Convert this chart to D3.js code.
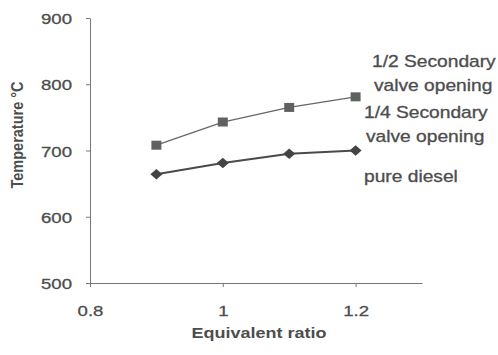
<!DOCTYPE html>
<html>
<head>
<meta charset="utf-8">
<script src="https://cdn.jsdelivr.net/npm/d3@7"></script>
<style>
  body { margin: 0; background: #fff; }
  svg { display: block; font-family: "Liberation Sans", Arial, sans-serif; }
</style>
</head>
<body>
<div id="chart"></div>
<script>
const equivRatio = [0.9, 1.0, 1.1, 1.2];
const upperSeries = [708, 743, 765, 781];   // square markers
const lowerSeries = [664, 681, 695, 700];   // diamond markers
const xTicks = [0.8, 1, 1.2];
const yTicks = [500, 600, 700, 800, 900];
const labelLines = [
  { text: "1/2 Secondary", x: 372, y: 67 },
  { text: "valve opening", x: 374, y: 91 },
  { text: "1/4 Secondary", x: 364, y: 118 },
  { text: "valve opening", x: 366, y: 142 },
  { text: "pure diesel", x: 364, y: 182 }
];

const size = { x: 498, y: 355 };
const stretch = 1.2;   // scan is stretched horizontally
const ink = "#4d4d4d";

const xScale = d3.scaleLinear().domain([0.8, 1.3]).range([90, 422]);
const yScale = d3.scaleLinear().domain([500, 900]).range([283, 18]);

const svg = d3.select("#chart")
  .append("svg")
  .attr("width", size.x)
  .attr("height", size.y);

// y axis
const yAxis = svg.append("g")
  .attr("transform", `translate(${xScale(0.8)},0)`)
  .call(d3.axisLeft(yScale).tickValues(yTicks).tickSize(4).tickPadding(14).tickSizeOuter(0));

// x axis
const xAxis = svg.append("g")
  .attr("transform", `translate(0,${yScale(500)})`)
  .call(d3.axisBottom(xScale).tickValues(xTicks).tickFormat(d3.format("")).tickSize(4).tickPadding(18).tickSizeOuter(0));

[yAxis, xAxis].forEach(ax => {
  ax.select(".domain").attr("stroke", "#777");
  ax.selectAll(".tick line").attr("stroke", "#777");
  ax.selectAll(".tick text")
    .attr("fill", ink)
    .attr("font-size", 15.5)
    .attr("stroke", ink)
    .attr("stroke-width", 0.3)
    .each(function () {
      const t = d3.select(this);
      const x = +t.attr("x") || 0;
      const y = +t.attr("y") || 0;
      t.attr("x", 0).attr("y", 0)
        .attr("transform", `translate(${x},${y}) scale(${stretch},1)`);
    });
});
yAxis.selectAll(".tick text").attr("dy", "0.36em");

// axis titles
svg.append("text")
  .text("Temperature °C")
  .attr("transform", `translate(23,135) rotate(-90) scale(1,${stretch})`)
  .attr("text-anchor", "middle")
  .attr("font-size", 14.5)
  .attr("font-weight", "bold")
  .attr("fill", ink);

svg.append("text")
  .text("Equivalent ratio")
  .attr("transform", `translate(259,338) scale(${stretch},1)`)
  .attr("text-anchor", "middle")
  .attr("font-size", 15)
  .attr("font-weight", "bold")
  .attr("fill", ink);

// lines
const line = d3.line()
  .x((d, i) => xScale(equivRatio[i]))
  .y(d => yScale(d));

svg.append("path")
  .datum(upperSeries)
  .attr("d", line)
  .attr("fill", "none")
  .attr("stroke", "#666")
  .attr("stroke-width", 1.3);

svg.append("path")
  .datum(lowerSeries)
  .attr("d", line)
  .attr("fill", "none")
  .attr("stroke", "#4a4a4a")
  .attr("stroke-width", 2);

// markers
svg.append("g")
  .selectAll("rect")
  .data(upperSeries)
  .join("rect")
  .attr("x", (d, i) => xScale(equivRatio[i]) - 5)
  .attr("y", d => yScale(d) - 4.5)
  .attr("width", 10)
  .attr("height", 9)
  .attr("fill", "#5f635f");

svg.append("g")
  .selectAll("path")
  .data(lowerSeries)
  .join("path")
  .attr("transform", (d, i) => `translate(${xScale(equivRatio[i])},${yScale(d)}) scale(1.15,1)`)
  .attr("d", d3.symbol(d3.symbolDiamond2, 70))
  .attr("fill", "#444");

// series labels
svg.append("g")
  .selectAll("text")
  .data(labelLines)
  .join("text")
  .text(d => d.text)
  .attr("transform", d => `translate(${d.x},${d.y}) scale(${stretch},1)`)
  .attr("font-size", 16)
  .attr("fill", ink)
  .attr("stroke", ink)
  .attr("stroke-width", 0.3);
</script>
</body>
</html>
